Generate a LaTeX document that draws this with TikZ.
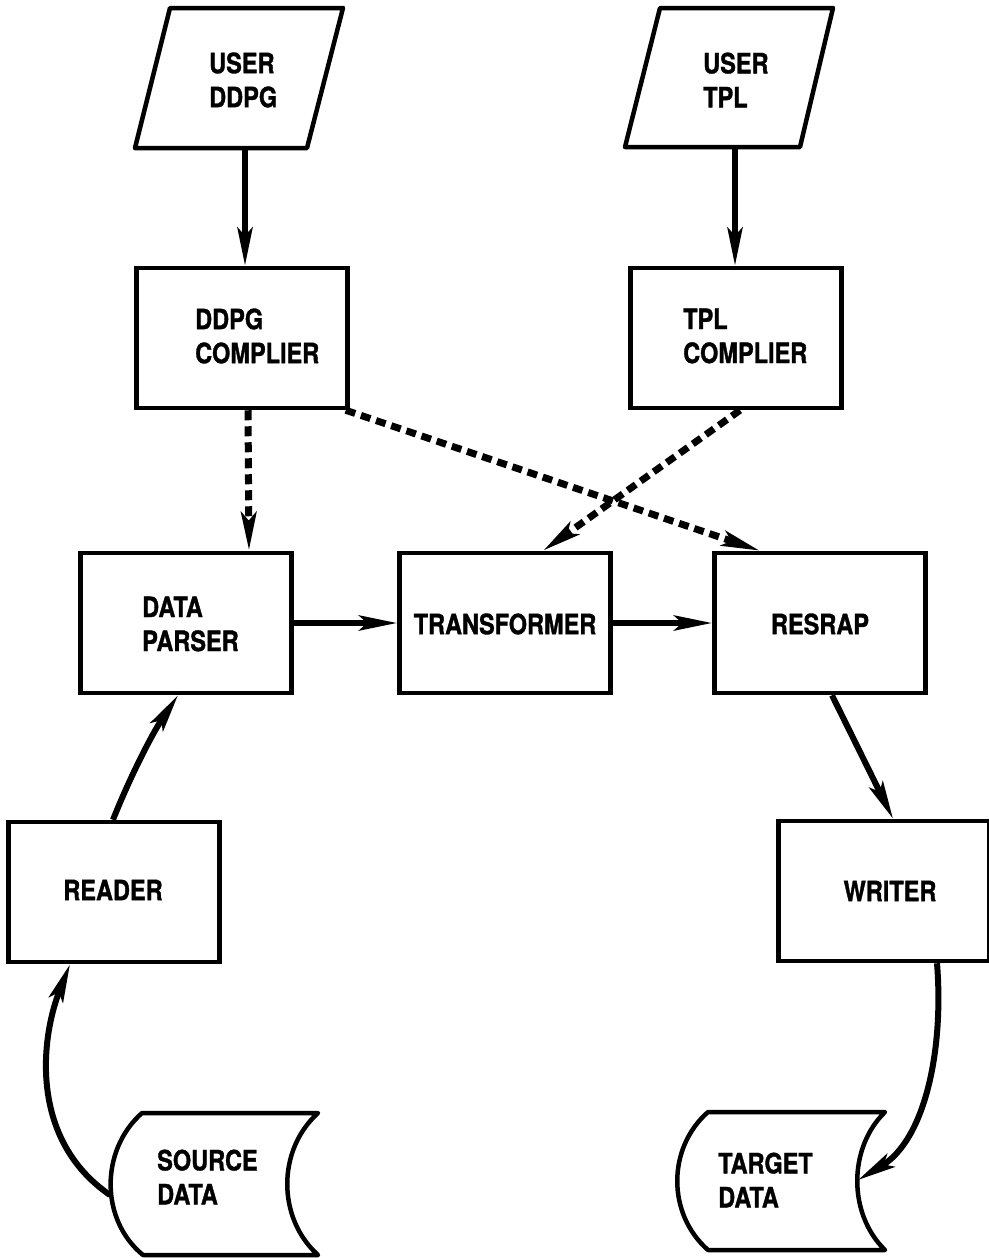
\documentclass[tikz,border=0pt]{standalone}
\usepackage{fontspec}
\newfontfamily\lblfont{texgyreheros-bold.otf}[FakeStretch=0.84,FakeBold=1.2]
\usetikzlibrary{arrows.meta,calc}
\begin{document}
\begin{tikzpicture}[x=1pt,y=-1pt,
  box/.style={draw,line width=4.5pt,minimum width=211pt,minimum height=140pt,inner sep=0pt},
  lbl/.style={font=\lblfont\fontsize{28}{34}\selectfont,inner sep=0pt,align=left},
  flow/.style={line width=6pt,-{Stealth[length=38pt,width=15pt,inset=8pt]}},
  dflow/.style={flow,line width=7pt,dash pattern=on 10pt off 6pt},
  outline/.style={line width=4.5pt,line join=round}]
\useasboundingbox (0,0) rectangle (988,1258);

% input forms (parallelograms)
\draw[outline] (170,8) -- (343,8) -- (307,148) -- (135,148) -- cycle;
\coordinate (ud-out) at (245,148);
\node[lbl,anchor=west] (ud-t) at (209,80) {USER\\DDPG};

\draw[outline] (660,8) -- (833,8) -- (800,147) -- (625,147) -- cycle;
\coordinate (ut-out) at (735,147);
\node[lbl,anchor=west] (ut-t) at (703,80) {USER\\TPL};

% process boxes
\node[box] (ddpgc) at (242,338) {};
\node[lbl,anchor=west] (ddpgc-t) at (195,336) {DDPG\\COMPLIER};
\node[box] (tplc) at (736,338) {};
\node[lbl,anchor=west] (tplc-t) at (683,336) {TPL\\COMPLIER};

\node[box] (parser) at (186,623) {};
\node[lbl,anchor=west] (parser-t) at (142,624) {DATA\\PARSER};
\node[box] (transformer) at (505,623) {};
\node[lbl] (transformer-t) at (505,624) {TRANSFORMER};
\node[box] (resrap) at (820,623) {};
\node[lbl] (resrap-t) at (820,624) {RESRAP};

\node[box] (reader) at (114,892) {};
\node[lbl] (reader-t) at (113,890) {READER};
\node[box] (writer) at (884,891) {};
\node[lbl] (writer-t) at (890,891) {WRITER};

% stored data shapes
\draw[outline] (142,1113) -- (318,1113)
  .. controls (277,1150) and (277,1218) .. (318,1255)
  -- (143,1255)
  .. controls (100,1220) and (100,1150) .. cycle;
\coordinate (src-out) at (110,1195);
\node[lbl,anchor=west] (src-t) at (157,1177) {SOURCE\\DATA};

\draw[outline] (708,1112) -- (885,1112)
  .. controls (848,1148) and (848,1214) .. (885,1250)
  -- (708,1250)
  .. controls (667,1214) and (667,1148) .. cycle;
\coordinate (tgt-in) at (858,1180);
\node[lbl,anchor=west] (tgt-t) at (718,1180) {TARGET\\DATA};

% solid flows
\draw[flow] (ud-out) -- (ud-out |- ddpgc.north);
\draw[flow] (ut-out) -- (ut-out |- tplc.north);
\draw[flow] (parser.east) -- (transformer.west);
\draw[flow] (transformer.east) -- (resrap.west);
\draw[flow] (src-out) .. controls (30,1140) and (40,1040) .. ([xshift=-44pt]reader.south);
\draw[flow] ([xshift=-1pt]reader.north) .. controls (130,777) and (152,734) .. ([xshift=-8pt]parser.south);
\draw[flow] ([xshift=12pt]resrap.south) -- ([xshift=9pt]writer.north);
\draw[flow] ([xshift=53pt]writer.south) .. controls (944,1050) and (925,1140) .. (tgt-in);

% dashed flows
\draw[dflow] ([xshift=6pt]ddpgc.south) -- ([xshift=63pt]parser.north);
\draw[dflow] ([xshift=-4pt]ddpgc.south east) -- ([xshift=-60pt]resrap.north);
\draw[dflow] ([xshift=4pt]tplc.south) -- ([xshift=38pt]transformer.north);
\end{tikzpicture}
\end{document}
